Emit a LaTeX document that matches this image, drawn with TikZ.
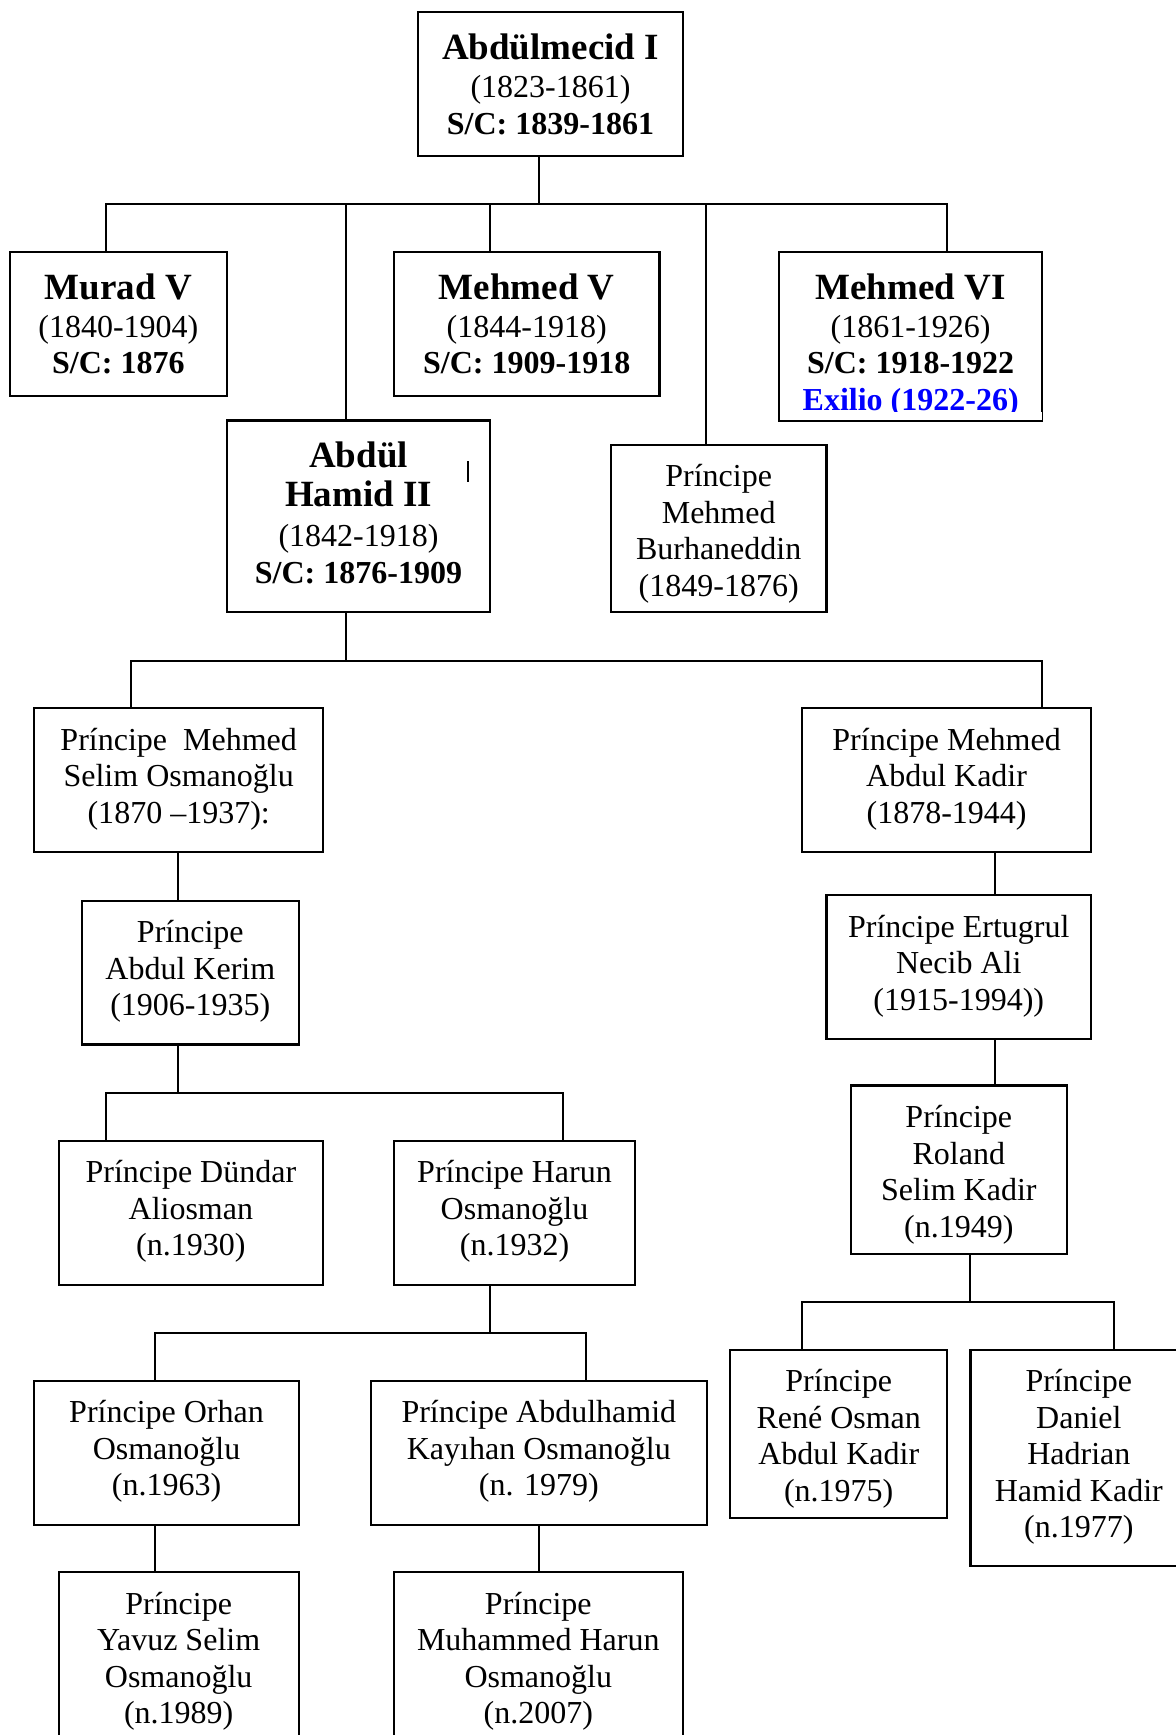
\documentclass[tikz,border=0pt]{standalone}
\usepackage{fontspec}
\setmainfont{Liberation Serif}
\usetikzlibrary{fit,calc}
% large bold line used for the sultans' names
\newcommand\sultanname[1]{{\fontsize{18.5}{18.25}\selectfont\bfseries #1}}
\begin{document}
\begin{tikzpicture}[x=0.5532pt,y=-0.5532pt,
  box/.style={draw, line width=1.1pt, inner sep=0pt},
  txt/.style={anchor=north, inner sep=0pt, align=center,
              font=\fontsize{16}{18.25}\selectfont},
  link/.style={line width=1pt},
]
\useasboundingbox (0,0) rectangle (1062,1568);
\fill[white] (0,0) rectangle (1062,1568);

% ---------- boxes ----------
\node[box, fit={(378,11) (617,141)}] (abd) {};
\node[box, fit={(9,228) (205,358)}] (murad) {};
\node[box, fit={(356,228) (596,358)}] (m5) {};
\node[box, fit={(704,228) (942,380)}] (m6) {};
\node[box, fit={(205,380) (443,553)}] (ah) {};
\node[box, fit={(552,402) (747,553)}] (burh) {};
\node[box, fit={(31,640) (292,770)}] (selim) {};
\node[box, fit={(725,640) (986,770)}] (kadir) {};
\node[box, fit={(74,814) (270,944)}] (kerim) {};
\node[box, fit={(747,809) (986,939)}] (ertug) {};
\node[box, fit={(53,1031) (292,1161)}] (dundar) {};
\node[box, fit={(356,1031) (574,1161)}] (harun) {};
\node[box, fit={(769,981) (964,1133)}] (roland) {};
\node[box, fit={(31,1248) (270,1378)}] (orhan) {};
\node[box, fit={(335,1248) (639,1378)}] (kayi) {};
\node[box, fit={(660,1220) (856,1372)}] (rene) {};
\node[box, fit={(877,1220) (1073,1415)}] (daniel) {};
\node[box, fit={(53,1421) (270,1575)}] (yavuz) {};
\node[box, fit={(356,1421) (617,1575)}] (muh) {};

% ---------- texts, hung from the top of each box ----------
\node[txt] (abd-t) at ($(abd.north)+(0,20)$)
  {\sultanname{Abdülmecid I}\\[1.1pt] (1823-1861)\\ \textbf{S/C: 1839-1861}};
\node[txt] (murad-t) at ($(murad.north)+(0,20)$)
  {\sultanname{Murad V}\\[0.6pt] (1840-1904)\\ \textbf{S/C: 1876}};
\node[txt] (m5-t) at ($(m5.north)+(0,20)$)
  {\sultanname{Mehmed V}\\[0.6pt] (1844-1918)\\ \textbf{S/C: 1909-1918}};
\node[txt] (m6-t) at ($(m6.north)+(0,20)$)
  {\sultanname{Mehmed VI}\\[0.6pt] (1861-1926)\\ \textbf{S/C: 1918-1922}\\[0.4pt]
   \textcolor{blue}{\textbf{Exilio (1922-26)}}};
% the last line of this box is cut off at its baseline
\fill[white] ($(m6.south west)+(1.5,-8.5)$) rectangle ($(m6.south east)+(-1.5,-1.4)$);
\node[txt] (ah-t) at ($(ah.north)+(0,20)$)
  {\sultanname{Abdül}\\[1.3pt] \sultanname{Hamid II}\\[1.5pt] (1842-1918)\\[0.4pt] \textbf{S/C: 1876-1909}};
\draw[line width=0.8pt] ($(ah.north east)+(-21,38)$) -- ++(0,19);
\node[txt] (burh-t) at ($(burh.north)+(0,18.5)$)
  {Príncipe\\ Mehmed\\ Burhaneddin\\ (1849-1876)};
\node[txt] (selim-t) at ($(selim.north)+(0,18.5)$)
  {Príncipe\ \ Mehmed\\ Selim Osmanoğlu\\ (1870 –1937):};
\node[txt] (kadir-t) at ($(kadir.north)+(0,18.5)$)
  {Príncipe Mehmed\\ Abdul Kadir\\ (1878-1944)};
\node[txt] (kerim-t) at ($(kerim.north)+(0,18.5)$)
  {Príncipe\\ Abdul Kerim\\ (1906-1935)};
\node[txt] (ertug-t) at ($(ertug.north)+(0,18.5)$)
  {Príncipe Ertugrul\\ Necib Ali\\ (1915-1994))};
\node[txt] (dundar-t) at ($(dundar.north)+(0,18.5)$)
  {Príncipe Dündar\\ Aliosman\\ (n.1930)};
\node[txt] (harun-t) at ($(harun.north)+(0,18.5)$)
  {Príncipe Harun\\ Osmanoğlu\\ (n.1932)};
\node[txt] (roland-t) at ($(roland.north)+(0,18.5)$)
  {Príncipe\\ Roland\\ Selim Kadir\\ (n.1949)};
\node[txt] (orhan-t) at ($(orhan.north)+(0,18.5)$)
  {Príncipe Orhan\\ Osmanoğlu\\ (n.1963)};
\node[txt] (kayi-t) at ($(kayi.north)+(0,18.5)$)
  {Príncipe Abdulhamid\\ Kayıhan Osmanoğlu\\ (n. 1979)};
\node[txt] (rene-t) at ($(rene.north)+(0,18.5)$)
  {Príncipe\\ René Osman\\ Abdul Kadir\\ (n.1975)};
\node[txt] (daniel-t) at ($(daniel.north)+(0,18.5)$)
  {Príncipe\\ Daniel\\ Hadrian\\ Hamid Kadir\\ (n.1977)};
\node[txt] (yavuz-t) at ($(yavuz.north)+(0,18.5)$)
  {Príncipe\\ Yavuz Selim\\ Osmanoğlu\\ (n.1989)};
\node[txt] (muh-t) at ($(muh.north)+(0,18.5)$)
  {Príncipe\\ Muhammed Harun\\ Osmanoğlu\\ (n.2007)};

% ---------- connectors ----------
% children of Abdülmecid I
\coordinate (r0) at (487,184);
\coordinate (r1) at (96,184);
\coordinate (r2) at (313,184);
\coordinate (r3) at (443,184);
\coordinate (r4) at (638,184);
\coordinate (r5) at (856,184);
\draw[link] (abd.south -| r0) -- (r0);
\draw[link] (murad.north -| r1) -- (r1) -- (r5) -- (m6.north -| r5);
\draw[link] (r2) -- (ah.north -| r2);
\draw[link] (r3) -- (m5.north -| r3);
\draw[link] (r4) -- (burh.north -| r4);

% children of Abdül Hamid II
\coordinate (h0) at (313,597);
\coordinate (h1) at (118,597);
\coordinate (h2) at (942,597);
\draw[link] (ah.south -| h0) -- (h0);
\draw[link] (selim.north -| h1) -- (h1) -- (h2) -- (kadir.north -| h2);

% single lines of descent
\coordinate (s1) at (161,0);
\draw[link] (selim.south -| s1) -- (kerim.north -| s1);
\coordinate (k1) at (899,0);
\draw[link] (kadir.south -| k1) -- (ertug.north -| k1);
\draw[link] (ertug.south -| k1) -- (roland.north -| k1);

% children of Abdul Kerim
\coordinate (e0) at (161,988);
\coordinate (e1) at (96,988);
\coordinate (e2) at (509,988);
\draw[link] (kerim.south -| e0) -- (e0);
\draw[link] (dundar.north -| e1) -- (e1) -- (e2) -- (harun.north -| e2);

% children of Harun
\coordinate (n0) at (443,1205);
\coordinate (n1) at (140,1205);
\coordinate (n2) at (530,1205);
\draw[link] (harun.south -| n0) -- (n0);
\draw[link] (orhan.north -| n1) -- (n1) -- (n2) -- (kayi.north -| n2);
\draw[link] (orhan.south -| n1) -- (yavuz.north -| n1);
\coordinate (n3) at (487,0);
\draw[link] (kayi.south -| n3) -- (muh.north -| n3);

% children of Roland
\coordinate (l0) at (877,1177);
\coordinate (l1) at (725,1177);
\coordinate (l2) at (1007,1177);
\draw[link] (roland.south -| l0) -- (l0);
\draw[link] (rene.north -| l1) -- (l1) -- (l2) -- (daniel.north -| l2);
\end{tikzpicture}
\end{document}
